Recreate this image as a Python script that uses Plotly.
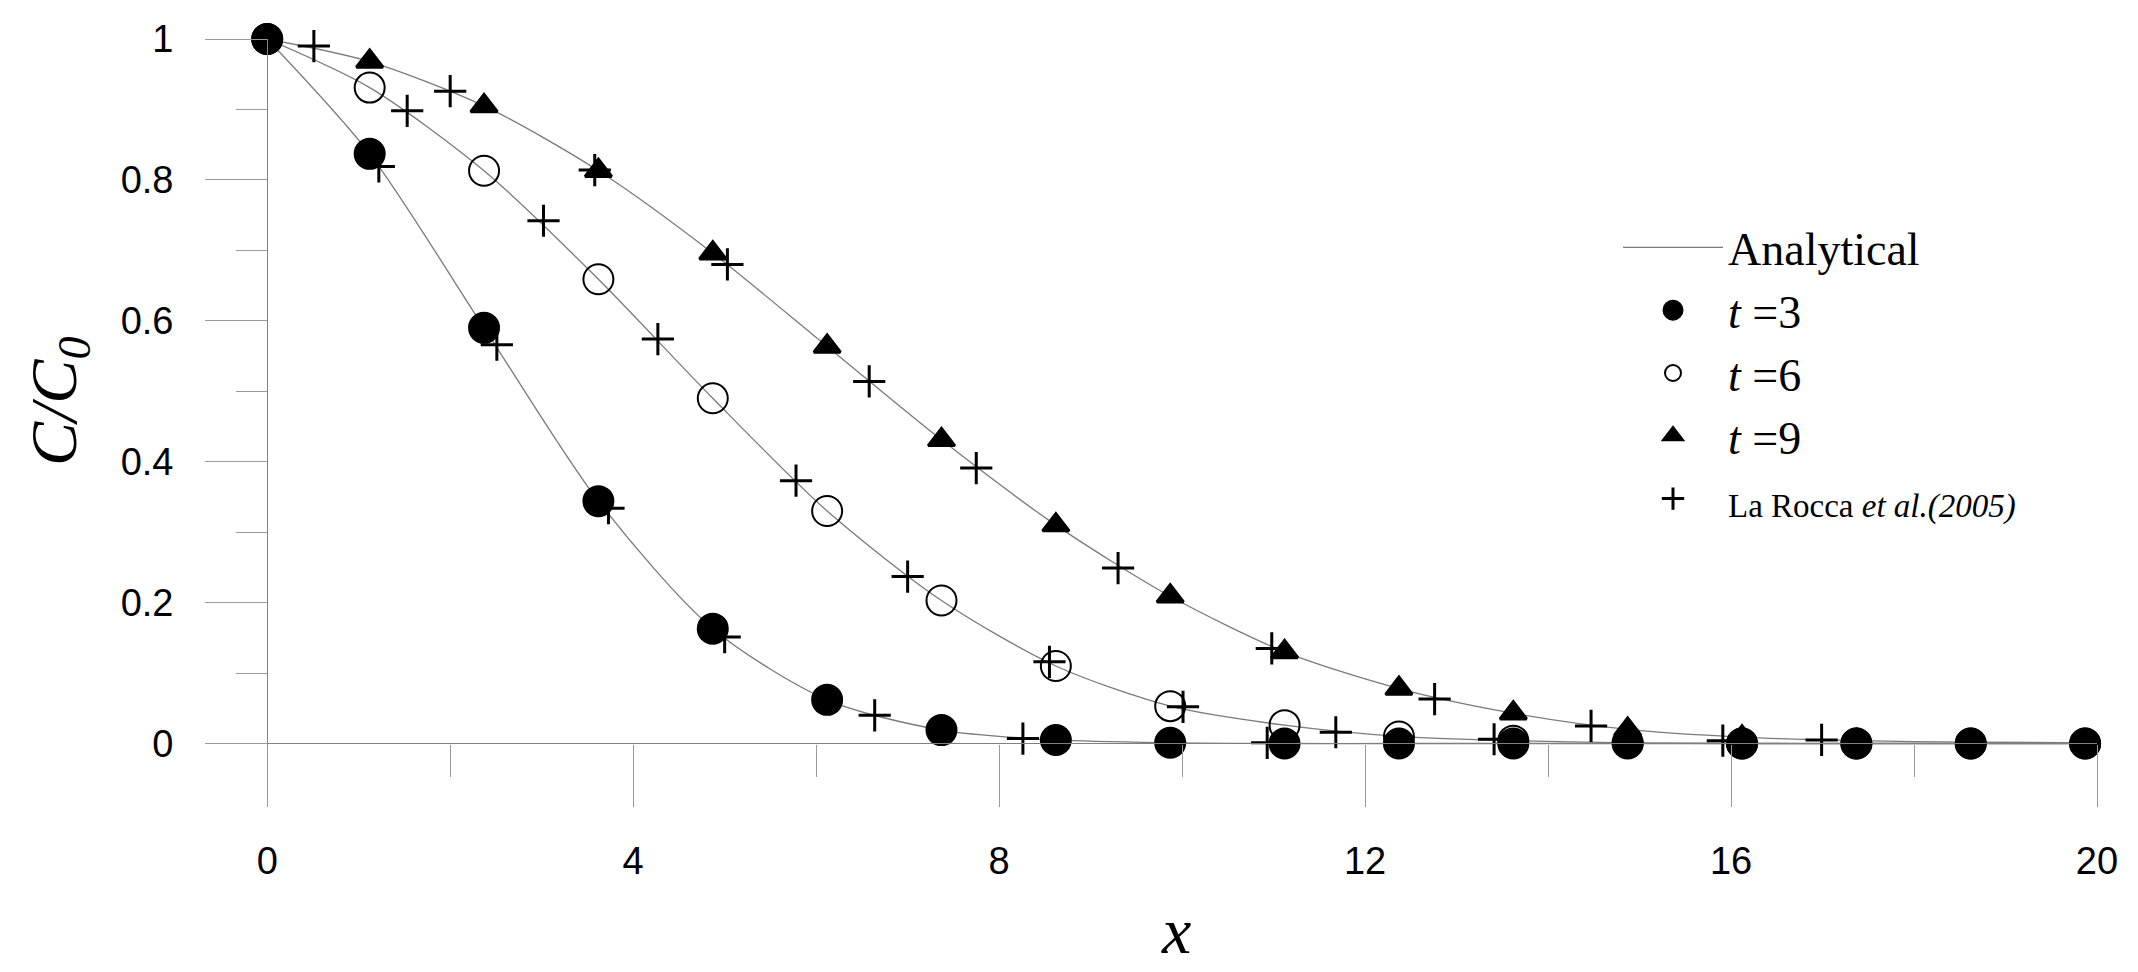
import plotly.graph_objects as go

# ---- data ----
x_grid = [0, 1.12, 2.37, 3.62, 4.87, 6.12, 7.37, 8.62, 9.87, 11.12, 12.37, 13.62,
          14.87, 16.12, 17.37, 18.62, 19.87]
c_t3 = [1.0, 0.837, 0.590, 0.344, 0.163, 0.062, 0.019, 0.005, 0.001, 0.0, 0.0, 0.0,
        0.0, 0.0, 0.0, 0.0, 0.0]
c_t6 = [1.0, 0.931, 0.813, 0.659, 0.490, 0.330, 0.203, 0.110, 0.053, 0.026, 0.010, 0.004,
        0.001, 0.0, 0.0, 0.0, 0.0]
c_t9 = [1.0, 0.968, 0.905, 0.813, 0.696, 0.5635, 0.431, 0.310, 0.209, 0.130, 0.078, 0.043,
        0.020, 0.009, 0.004, 0.002, 0.001]

rocca_x = [0.51, 1.22, 1.53, 2.0, 2.51, 3.02, 3.58, 3.73, 4.27, 5.0, 5.03, 5.78, 6.58,
           6.64, 7.0, 7.75, 8.26, 8.55, 9.30, 10.01, 10.93, 10.98, 11.68, 12.76, 13.41,
           14.47, 15.91, 16.99]
rocca_y = [0.990, 0.819, 0.898, 0.926, 0.566, 0.742, 0.814, 0.334, 0.574, 0.151, 0.680,
           0.373, 0.514, 0.040, 0.237, 0.391, 0.007, 0.116, 0.249, 0.052, 0.001, 0.135,
           0.016, 0.063, 0.006, 0.025, 0.004, 0.005]

x_ticks = [0, 4, 8, 12, 16, 20]
x_minor = [2, 6, 10, 14, 18]
y_ticks = [0, 0.2, 0.4, 0.6, 0.8, 1]
y_tick_text = ["0", "0.2", "0.4", "0.6", "0.8", "1"]
y_minor = [0.1, 0.3, 0.5, 0.7, 0.9]

LINE_GREY = "#7a7a7a"
AXIS_GREY = "#808080"
TICK_GREY = "#9a9a9a"
SERIF = "Liberation Serif"
SANS = "Liberation Sans"

W, H = 2138, 972
ML, MR, MT, MB = 205, 41, 39, 167
PW, PH = W - ML - MR, H - MT - MB


def px_x(p):
    return (p - ML) / PW


def px_y(p):
    return (H - MB - p) / PH


fig = go.Figure()

# analytical curves
for i, c in enumerate([c_t3, c_t6, c_t9]):
    fig.add_trace(go.Scatter(
        x=x_grid, y=c, mode="lines", name="Analytical",
        line=dict(color=LINE_GREY, width=1.3, shape="spline", smoothing=0.8),
        legendgroup="analytical", showlegend=(i == 0), legendrank=1,
        cliponaxis=False, hoverinfo="skip"))

# La Rocca et al. (2005)
fig.add_trace(go.Scatter(
    x=rocca_x, y=rocca_y, mode="markers",
    name='<span style="font-size:33px">La Rocca <i>et al.(2005)</i></span>',
    marker=dict(symbol="cross-thin", size=23, color="black",
                line=dict(color="black", width=3)),
    legendrank=5, cliponaxis=False))

# t = 9
fig.add_trace(go.Scatter(
    x=x_grid, y=c_t9, mode="markers", name="<i>t</i> =9",
    marker=dict(symbol="triangle-up", size=23, color="black",
                line=dict(color="black", width=3)),
    legendrank=4, cliponaxis=False))

# t = 6
fig.add_trace(go.Scatter(
    x=x_grid, y=c_t6, mode="markers", name="<i>t</i> =6",
    marker=dict(symbol="circle-open", size=30, color="black",
                line=dict(color="black", width=2)),
    legendrank=3, cliponaxis=False))

# t = 3
fig.add_trace(go.Scatter(
    x=x_grid, y=c_t3, mode="markers", name="<i>t</i> =3",
    marker=dict(symbol="circle", size=27, color="black",
                line=dict(color="black", width=5)),
    legendrank=2, cliponaxis=False))

xr = [-0.68, 20.0]
yr = [-0.0873, 1.0]

fig.update_layout(
    width=W, height=H,
    paper_bgcolor="white", plot_bgcolor="white",
    margin=dict(l=ML, r=MR, t=MT, b=MB, pad=0, autoexpand=False),
    showlegend=True,
    legend=dict(
        x=px_x(1618), y=px_y(211), xanchor="left", yanchor="top",
        font=dict(family=SERIF, size=46, color="black"),
        itemwidth=100, bgcolor="rgba(0,0,0,0)", borderwidth=0,
        tracegroupgap=0,
    ),
    xaxis=dict(
        range=xr, anchor="free", position=(0 - yr[0]) / (yr[1] - yr[0]),
        showline=True, linecolor=AXIS_GREY, linewidth=1.3,
        showgrid=False, zeroline=False,
        ticks="outside", ticklen=62, tickwidth=1.3, tickcolor=TICK_GREY,
        tickvals=x_ticks, ticktext=[str(v) for v in x_ticks],
        tickfont=dict(family=SANS, size=38, color="black"),
        ticklabelstandoff=22,
        minor=dict(tickvals=x_minor, ticks="outside", ticklen=32,
                   tickwidth=1.3, tickcolor=TICK_GREY, showgrid=False),
    ),
    yaxis=dict(
        range=yr, anchor="free", position=(0 - xr[0]) / (xr[1] - xr[0]),
        showline=True, linecolor=AXIS_GREY, linewidth=1.3,
        showgrid=False, zeroline=False,
        ticks="outside", ticklen=62, tickwidth=1.3, tickcolor=TICK_GREY,
        tickvals=y_ticks, ticktext=y_tick_text,
        tickfont=dict(family=SANS, size=38, color="black"),
        ticklabelstandoff=24,
        minor=dict(tickvals=y_minor, ticks="outside", ticklen=31,
                   tickwidth=1.3, tickcolor=TICK_GREY, showgrid=False),
    ),
    annotations=[
        dict(text="<i>C/C<sub>0</sub></i>", xref="paper", yref="paper",
             x=px_x(58), y=px_y(402), xanchor="center", yanchor="middle",
             textangle=-90, showarrow=False,
             font=dict(family=SERIF, size=66, color="black")),
        dict(text="<i>x</i>", xref="paper", yref="paper",
             x=px_x(1176), y=px_y(930), xanchor="center", yanchor="middle",
             showarrow=False,
             font=dict(family=SERIF, size=66, color="black")),
    ],
)

fig.write_html("out.html", config={"displayModeBar": False},
               post_script="document.body.style.margin='0px';")
